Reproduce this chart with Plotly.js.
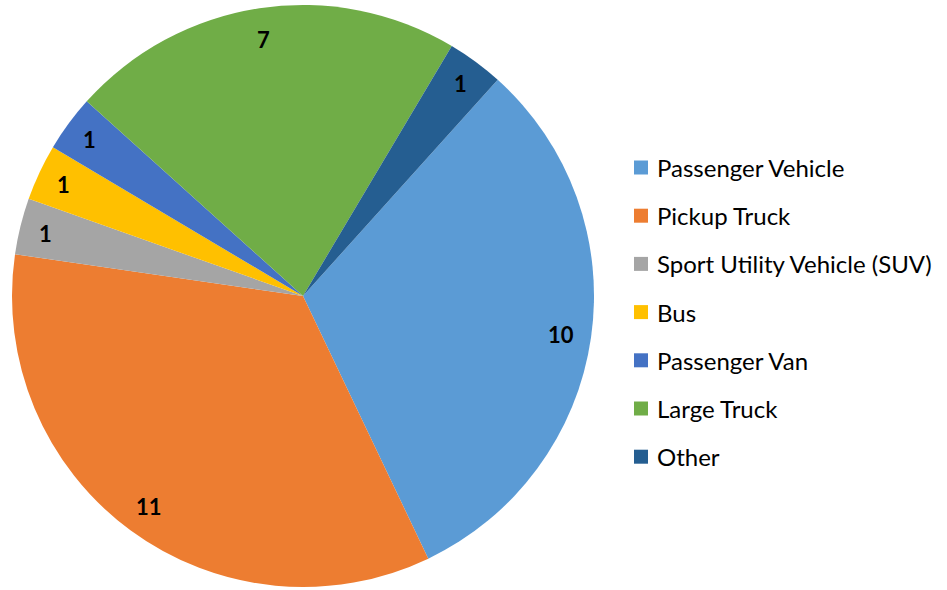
<!DOCTYPE html>
<html>
<head>
<meta charset="utf-8">
<script src="https://cdn.plot.ly/plotly-3.0.1.min.js"></script>
<style>html,body{margin:0;padding:0;background:#fff;}#chart{width:947px;height:590px;}</style>
</head>
<body>
<div id="chart"></div>
<script>
const categories = ["Passenger Vehicle", "Pickup Truck", "Sport Utility Vehicle (SUV)", "Bus", "Passenger Van", "Large Truck", "Other"];
const values = [10, 11, 1, 1, 1, 7, 1];
const colors = ["#5B9BD5", "#ED7D31", "#A5A5A5", "#FFC000", "#4472C4", "#70AD47", "#255E91"];

const W = 947, H = 590;
const rotation = 42;
const pieTopPx = 5, pieBotPx = 587, pieLeftPx = 0, pieRightPx = 606;
const cx = (pieLeftPx + pieRightPx) / 2;
const cy = (pieTopPx + pieBotPx) / 2;
const R = Math.min(pieRightPx - pieLeftPx, pieBotPx - pieTopPx) / 2;

const total = values.reduce((a, b) => a + b, 0);
const annotations = [];
const shapes = [];
let cum = 0;
values.forEach((v, i) => {
  const mid = (rotation + (cum + v / 2) / total * 360) * Math.PI / 180;
  cum += v;
  const rr = (v <= 1 ? 0.91 : 0.895) * R;
  const px = cx + rr * Math.sin(mid);
  const py = cy - rr * Math.cos(mid) + 1;
  annotations.push({
    xref: 'paper', yref: 'paper', x: px / W, y: 1 - py / H,
    text: String(v), showarrow: false, xanchor: 'center', yanchor: 'middle',
    font: {family: 'Lato, "Liberation Sans", sans-serif', size: 22, color: '#000', weight: 'bold'}
  });
});

// legend
const legX = 634, legSq = 14, legTextX = 655, legY0 = 167.5, legStep = 48.2;
categories.forEach((c, i) => {
  const y = legY0 + i * legStep;
  shapes.push({
    type: 'rect', xref: 'paper', yref: 'paper',
    x0: legX / W, x1: (legX + legSq) / W,
    y0: 1 - (y - legSq / 2) / H, y1: 1 - (y + legSq / 2) / H,
    fillcolor: colors[i], line: {width: 0}
  });
  annotations.push({
    xref: 'paper', yref: 'paper', x: legTextX / W, y: 1 - y / H,
    text: c, showarrow: false, xanchor: 'left', yanchor: 'middle',
    font: {family: 'Lato, "Liberation Sans", sans-serif', size: 24, color: '#000'}
  });
});

const data = [{
  type: 'pie',
  labels: categories,
  values: values,
  sort: false,
  direction: 'clockwise',
  rotation: rotation,
  textinfo: 'none',
  hoverinfo: 'label+value',
  marker: {colors: colors, line: {width: 0}},
  domain: {x: [pieLeftPx / W, pieRightPx / W], y: [1 - pieBotPx / H, 1 - pieTopPx / H]},
  showlegend: false
}];

const layout = {
  width: W, height: H,
  margin: {l: 0, r: 0, t: 0, b: 0},
  paper_bgcolor: '#fff', plot_bgcolor: '#fff',
  showlegend: false,
  annotations: annotations,
  shapes: shapes
};

Plotly.newPlot('chart', data, layout, {displayModeBar: false, staticPlot: true});
</script>
</body>
</html>
